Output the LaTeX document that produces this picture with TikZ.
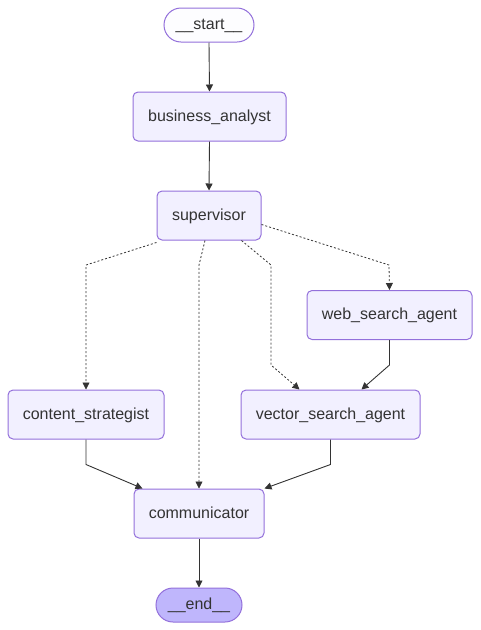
\documentclass[tikz,border=0pt]{standalone}
\usepackage{fontspec}
\setmainfont{Liberation Sans}
\usepackage{tikz}
\usetikzlibrary{arrows.meta}

\definecolor{nodefill}{HTML}{F2F0FF}
\definecolor{nodeline}{HTML}{9370DB}
\definecolor{endfill}{HTML}{BFB6FC}
\definecolor{ink}{HTML}{333333}

\begin{document}
\begin{tikzpicture}[
    x=1pt, y=-1pt,
    >={Triangle[length=7pt,width=7pt]},
    every node/.style={font=\fontsize{16pt}{19pt}\selectfont, text=ink, text height=11.5pt, text depth=2pt},
    agent/.style={rectangle, rounded corners=5pt, draw=nodeline, fill=nodefill, line width=1pt, minimum height=49pt, inner sep=0pt},
    terminal/.style={rectangle, rounded corners=17pt, draw=nodeline, line width=1pt, minimum height=34pt, inner sep=0pt},
    edge/.style={->, draw=ink, line width=0.9pt},
    cond/.style={->, draw=ink, line width=0.8pt, dash pattern=on 2pt off 2pt}
]
\useasboundingbox (0,0) rectangle (480,630);

\node[terminal, fill=white!85!nodefill, minimum width=90pt] (start) at (209,25) {\_\_start\_\_};
\node[agent, minimum width=153pt] (analyst) at (209.5,116.5) {business\_analyst};
\node[agent, minimum width=104pt] (supervisor) at (209,215.5) {supervisor};
\node[agent, minimum width=165pt] (web) at (389.5,315) {web\_search\_agent};
\node[agent, minimum width=156pt] (content) at (86,414.5) {content\_strategist};
\node[agent, minimum width=179pt] (vector) at (330.5,414.5) {vector\_search\_agent};
\node[agent, minimum width=130pt] (comm) at (199,513.5) {communicator};
\node[terminal, fill=endfill, minimum width=86pt] (end) at (199,605) {\_\_end\_\_};

% fixed edges
\draw[edge] (start.south) -- (analyst.north);
\draw[edge] (analyst.south) -- (supervisor.north);
\draw[edge] (web.south) -- ++(0,25) -- ([xshift=-59pt]vector.north east);
\draw[edge] (content.south) -- ++(0,25) -- ([xshift=9pt]comm.north west);
\draw[edge] (vector.south) -- ++(0,25) -- (comm.north east);
\draw[edge] (comm.south) -- (end.north);

% conditional edges from supervisor
\draw[cond] ([yshift=-2pt]supervisor.south west) -- (86,265) -- (content.north);
\draw[cond] ([xshift=-4pt]supervisor.south) -- (199,265) -- (comm.north);
\draw[cond] ([xshift=-20pt]supervisor.south east) -- (271,265) -- (271,365) -- ([xshift=59pt]vector.north west);
\draw[cond] ([yshift=-9pt]supervisor.east) -- (389,265) -- (web.north);

\end{tikzpicture}
\end{document}
